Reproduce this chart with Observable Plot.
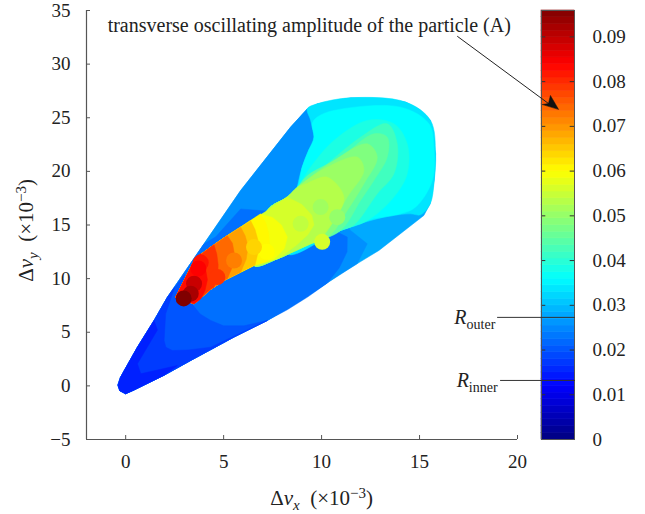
<!DOCTYPE html>
<html><head><meta charset="utf-8">
<script src="https://cdn.jsdelivr.net/npm/d3@7"></script>
<script src="https://cdn.jsdelivr.net/npm/@observablehq/plot@0.6"></script>
<style>
html,body{margin:0;padding:0;background:#fff}
#wrap{position:relative;width:645px;height:514px}
#wrap svg{position:absolute;left:0;top:0}
</style></head><body><div id="wrap"></div>
<script>
const xTicks = [0,5,10,15,20];
const yTicks = [-5,0,5,10,15,20,25,30,35];
const barTicks = [0,0.01,0.02,0.03,0.04,0.05,0.06,0.07,0.08,0.09];
const ampMax = 0.0959;
const Router = 0.0273, Rinner = 0.0132;

// edges of the footprint in (dvx, dvy)
const edgeLow = [[-.39,.04],[-.3,-.45],[0,-.74],[.43,-.38],[1.96,.99],[3.32,2.37],[5.53,4.55],[7.23,6.1]];
const edgeLeft = [[2.13,8.27],[1.45,6.1],[.6,3.61],[-.05,1.5],[-.26,.81]];
// regions of the outer wing, each closed along those edges
const wingLevels = [0.028,0.0255,0.0225,0.020,0.0175];
const wingArcs = [
 [[8.93,7.96],[10.97,10.45],[12.93,12.63],[15.22,15.89],[15.55,17],[15.75,19.15],[15.82,21.64],[15.56,24.75],[15.05,25.7],[14.29,26.46],[13,26.8],[11.48,26.86],[9.78,26.30],[9.27,25.83],[8.42,24.13],[5.87,18.22],[4.0,13.25]],
 [[8.93,7.96],[10.46,9.8],[11.82,11.4],[12.33,13.25],[11.48,14.49],[9.61,19.15],[9.61,24.75],[9.27,25.83],[8.42,24.13],[5.87,18.22],[4.0,13.25]],
 [[8.25,7.1],[9.3,8.3],[10.3,9.6],[10.9,11],[11.3,12.5],[11.31,13.87],[8.93,16.04],[5.87,16.5],[4.6,13.9],[4.0,13.25]],
 [[6.04,5.6],[5,5.6],[4.34,6.1],[3.8,6.7],[3.4,7.6],[3.1,9],[3.0,10.4]],
 [[4.34,3.61],[3.2,3.35],[2.38,3.30],[2.05,3.6],[1.96,4.23],[2.04,6.72],[2.5,9.2]]
];
const tipLevel = 0.015;
const tipShape = [[-.39,.04],[-.3,-.45],[0,-.74],[.43,-.38],[1.96,.99],[2.64,1.9],[.77,1.13],[.60,2.06],[1.62,5.2],[1.45,6.1],[.6,3.61],[-.05,1.5],[-.26,.81]];
const lobeLevel = 0.0335;
const lobeShape = [[9.27,25.83],[9.78,26.30],[11.48,26.86],[14.29,26.46],[15.56,24.75],[15.82,21.64],[15.75,19.15],[15.55,17],[15.05,15.95],[14.54,16.04],[13.18,15.73],[10.97,14.49],[8.25,12.3],[8.76,18.5],[9.01,20.40],[9.35,22.0],[9.61,22.88],[9.44,24.75]];
// the bright ridge: shared edges and the far end of each level
const ridgeLower = [[10.97,14.49],[9.44,13.25],[8.6,12.55],[7.74,11.85],[6.55,11.23],[5.02,9.83],[4.34,9.0],[3.49,7.65]];
const ridgeUpper = [[2.55,8.27],[3.15,10.45],[3.57,11.9],[4.34,12.94],[5.1,13.9],[5.87,14.8],[7.23,16.35],[8.25,17.6],[8.76,18.5]];
const ridgeLevels = [0.036,0.0385,0.042,0.045,0.048,0.0505,0.053,0.056,0.059,0.0605,0.065,0.069,0.074,0.079,0.083];
const ridgeEnds = [
 [[9.01,20.40],[9.35,22.0],[9.61,23.19],[9.52,24.44],[9.78,25.06],[10.63,25.68],[14.03,25.99],[15.48,24.44],[15.73,22.26],[15.65,19.15],[14.80,16.67],[14.03,16.04],[12.5,15.5]],
 [[9.44,20.40],[10.63,22.88],[12.33,24.75],[13.69,24.44],[14.37,22.57],[14.37,19.77],[13.69,17.60],[12.33,15.4]],
 [[10.29,20.71],[11.99,23.19],[13.35,24.44],[13.86,22.57],[13.69,19.77],[12.84,17.91],[11.65,15.0]],
 [[9.27,19.6],[10.97,21.33],[12.67,23.50],[13.35,23.19],[13.35,21.33],[12.67,19.15],[11.99,17.29],[10.97,14.49]],
 [[10.63,21.02],[12.33,22.57],[12.84,21.33],[12.16,18.84],[11.31,16.35],[10.46,14.1]],
 [[10.29,20.40],[11.82,21.33],[12.16,20.08],[11.31,17.60],[10.63,15.42],[9.95,13.7]],
 [[9.27,18.9],[10.29,19.46],[11.14,17.60],[10.63,15.42],[9.78,13.5]],
 [[8.25,17.6],[9.0,16.9],[9.5,15.9],[9.61,15.0],[9.3,14.1],[8.7,13.1],[7.9,12.0]],
 [[6.89,16.0],[7.5,15.7],[7.95,15],[8.25,13.87],[8.1,12.8],[7.57,11.8]],
 [[6.89,16.0],[7.15,15.2],[7.3,14.2],[7.35,13],[7.23,11.6]],
 [[6.38,15.4],[6.6,14.6],[6.75,13.6],[6.75,12.4],[6.6,11.25]],
 [[5.87,14.8],[6.1,14],[6.25,13],[6.15,11.8],[5.87,10.6]],
 [[5.19,14.0],[5.45,13.3],[5.55,12.3],[5.45,11.1],[5.19,9.99]],
 [[4.51,13.15],[4.65,12.3],[4.72,11.3],[4.7,10.2],[4.51,9.2]],
 [[3.83,12.3],[4.05,11.2],[4.17,9.9],[4.05,8.9],[3.83,8.1]]
];
// individual particles visible on top
const dotX =   [10.8,9.95,8.93,10.03,7.2,6.55,5.53,4.68,3.83,3.71,3.49,3.32,2.96];
const dotY =   [15.73,16.67,15.11,13.43,12.5,12.94,11.69,10.14,11.5,10.95,9.52,8.6,8.15];
const dotAmp = [.05,.051,.054,.056,.06,.064,.072,.079,.082,.084,.089,.092,.0959];

const wingPolys = [];
wingArcs.forEach((arc,i)=>[...edgeLow,...arc,...edgeLeft].forEach(([x,y])=>wingPolys.push({id:"w"+i,amp:wingLevels[i],x,y})));
tipShape.forEach(([x,y])=>wingPolys.push({id:"tip",amp:tipLevel,x,y}));
const softPolys = [], sharpPolys = [];
lobeShape.forEach(([x,y])=>softPolys.push({id:"lobe",amp:lobeLevel,x,y}));
ridgeEnds.forEach((end,i)=>{
  const first=end[0][0], last=end[end.length-1][0];
  const soft = i<7;
  const target = soft ? softPolys : sharpPolys;
  const from = soft ? 6.5 : 0;   // the softer levels stop under the sharper ones
  [...end,...ridgeLower.filter(p=>p[0]<last&&p[0]>from),...ridgeUpper.filter(p=>p[0]<first&&p[0]>from)]
    .forEach(([x,y])=>target.push({id:"r"+i,amp:ridgeLevels[i],x,y}));
});
const dots = dotX.map((x,i)=>({x,y:dotY[i],amp:dotAmp[i]}));
const color = {type:"linear",interpolate:"rgb",
  domain:[0,.125,.375,.625,.875,1].map(t=>t*ampMax),
  range:["#000080","#0000ff","#00ffff","#ffff00","#ff0000","#800000"]};
const serif = "'Liberation Serif','Times New Roman',serif";
const ink = "#222", axisInk = "#555";

// colour bar (underneath)
const nBands = 64;
const bands = d3.range(nBands).map(i=>({y1:i/nBands*ampMax,y2:(i+1)/nBands*ampMax,amp:(i+.5)/nBands*ampMax}));
const bar = Plot.plot({
  width:645,height:514,marginLeft:541,marginRight:71,marginTop:10,marginBottom:75,
  style:{background:"transparent",fontFamily:serif,fontSize:"19px",color:ink},
  x:{domain:[0,1],axis:null},
  y:{domain:[0,ampMax]},
  color,
  marks:[
    Plot.rectY(bands,{x1:0,x2:1,y1:"y1",y2:"y2",fill:"amp",stroke:"amp",strokeWidth:.6}),
    Plot.ruleY(barTicks.slice(1),{x1:0,x2:.13,stroke:"#333"}),
    Plot.ruleY(barTicks.slice(1),{x1:.87,x2:1,stroke:"#333"}),
    Plot.frame({stroke:"#555"}),
    Plot.axisY(barTicks,{anchor:"right",tickSize:0,tickPadding:18,tickFormat:d=>d===0?"0":d.toFixed(2),fill:ink}),
    Plot.ruleY([Router],{x1:-1.33,x2:1.03,stroke:"#333"}),
    Plot.ruleY([Rinner],{x1:-1.24,x2:1.03,stroke:"#333"}),
    Plot.text(["Router"],{x:-1.4,y:Router,textAnchor:"end",fill:ink,fontSize:20}),
    Plot.text(["Rinner"],{x:-1.33,y:Rinner,textAnchor:"end",fill:ink,fontSize:20})
  ]
});

// main panel (on top, transparent)
const head = [[22.09,25.8],[21.68,27.08],[21.58,26.33],[21.28,26.24]].map(([x,y])=>({x,y}));
const main = Plot.plot({
  width:645,height:514,marginLeft:86,marginRight:128,marginTop:10,marginBottom:75,
  style:{background:"transparent",fontFamily:serif,fontSize:"19px",color:ink},
  x:{domain:[-2,20]},
  y:{domain:[-5,35]},
  color,
  marks:[
    Plot.line(wingPolys,{x:"x",y:"y",z:"id",fill:"amp",stroke:"amp",strokeWidth:.5,curve:"linear-closed"}),
    Plot.line(softPolys,{x:"x",y:"y",z:"id",fill:"amp",stroke:"amp",strokeWidth:.5,curve:"catmull-rom-closed"}),
    Plot.line(sharpPolys,{x:"x",y:"y",z:"id",fill:"amp",stroke:"amp",strokeWidth:.5,curve:"linear-closed"}),
    Plot.dot(dots,{x:"x",y:"y",fill:"amp",r:8}),
    Plot.ruleX([-2],{stroke:axisInk,strokeWidth:1.2}),
    Plot.ruleY([-5],{stroke:axisInk,strokeWidth:1.2}),
    Plot.axisX(xTicks,{anchor:"bottom",tickSize:-4,tickPadding:19,stroke:axisInk,fill:ink,label:null}),
    Plot.axisY(yTicks,{anchor:"left",tickSize:-4,tickPadding:20,stroke:axisInk,fill:ink,label:null,tickFormat:d=>d<0?"\u2212"+(-d):String(d)}),
    Plot.text(["dvx"],{x:10,y:-5,dy:59,fill:ink,fontSize:21}),
    Plot.text(["dvy"],{x:-2,y:14.5,dx:-60,rotate:-90,fill:ink,fontSize:21}),
    Plot.text(["transverse oscillating amplitude of the particle (A)"],{x:-.92,y:33.6,textAnchor:"start",fill:ink,fontSize:20}),
    Plot.line([{x:16.94,y:32.58},{x:21.58,y:26.33}],{x:"x",y:"y",stroke:"#222",strokeWidth:1}),
    Plot.line(head,{x:"x",y:"y",fill:"#111",stroke:"#111",strokeWidth:.5,curve:"linear-closed"})
  ]
});
const wrap=document.getElementById("wrap");
wrap.append(bar,main);

// rich text: italics, subscripts, superscripts stay real text
function rich(svg,plain,segs){
  d3.select(svg).selectAll("text").each(function(){
    const host = this.querySelector("tspan")||this;
    if(this.textContent.trim()!==plain) return;
    const t=d3.select(host); t.text(null);
    let shift=0;
    segs.forEach(s=>{
      const sp=t.append("tspan").text(s.t);
      if(s.i) sp.attr("font-style","italic");
      const want=s.sub?5:s.sup?-7:0;
      if(want!==shift) sp.attr("dy",want-shift);
      shift=want;
      if(s.sub||s.sup) sp.attr("font-size",s.fs||15);
    });
  });
}
rich(main,"dvx",[{t:"\u0394"},{t:"\u03bd",i:1},{t:"x",i:1,sub:1},{t:"  (\u00d710"},{t:"\u22123",sup:1},{t:")"}]);
rich(main,"dvy",[{t:"\u0394"},{t:"\u03bd",i:1},{t:"y",i:1,sub:1},{t:"  (\u00d710"},{t:"\u22123",sup:1},{t:")"}]);
rich(bar,"Router",[{t:"R",i:1},{t:"outer",sub:1,fs:14}]);
rich(bar,"Rinner",[{t:"R",i:1},{t:"inner",sub:1,fs:14}]);
</script></body></html>
